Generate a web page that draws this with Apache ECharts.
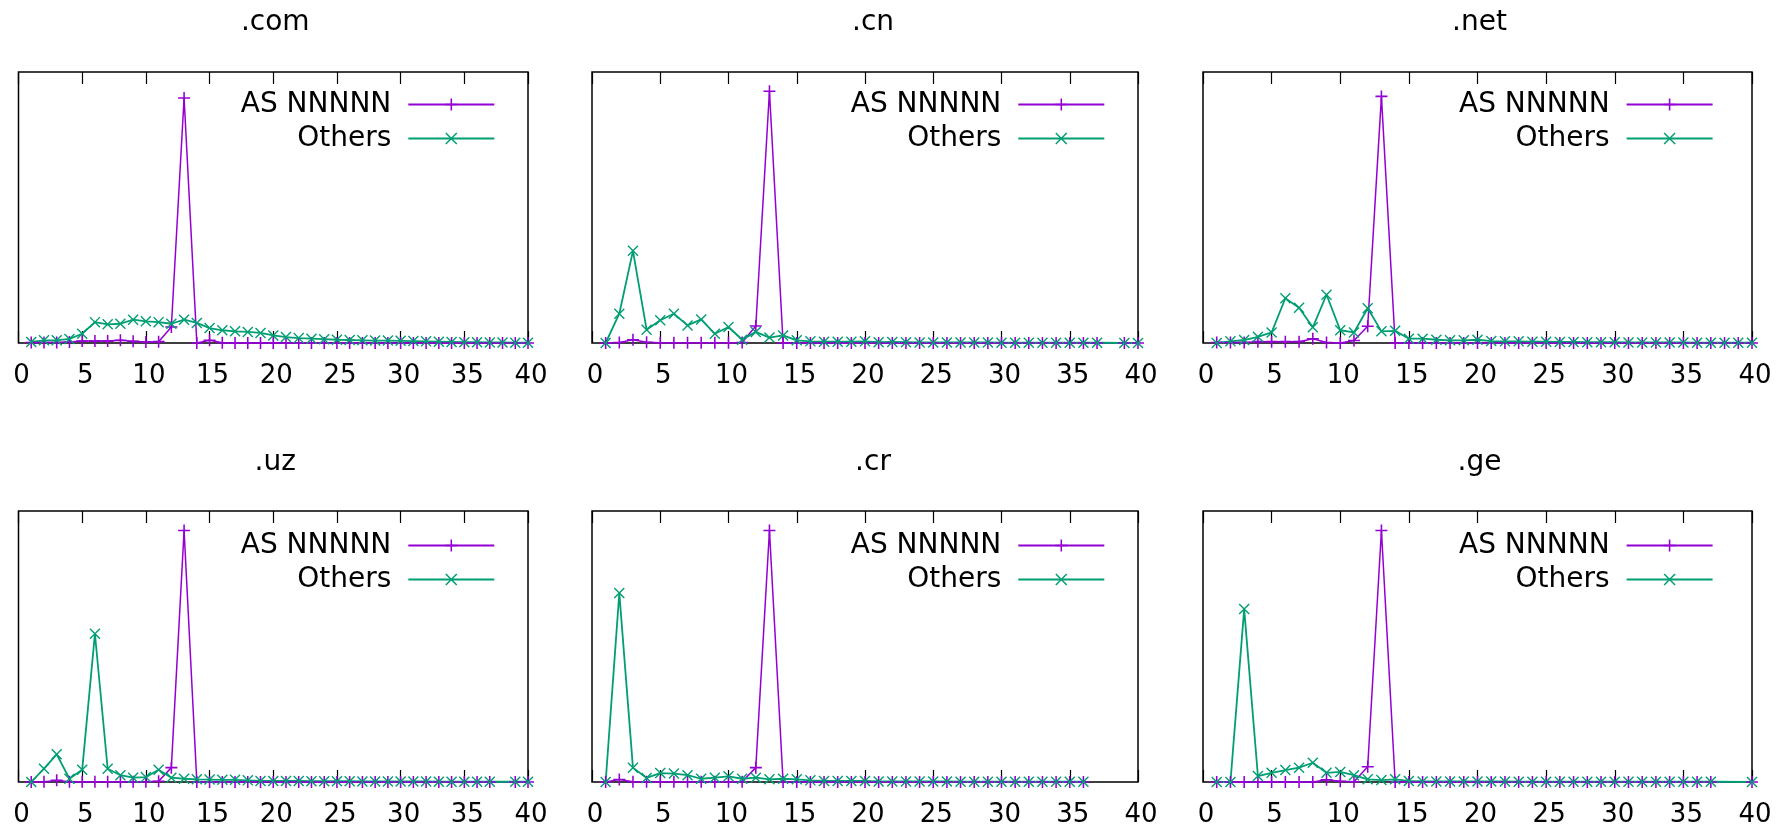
<!DOCTYPE html>
<html>
<head>
<meta charset="utf-8">
<script src="https://cdn.jsdelivr.net/npm/echarts@6/dist/echarts.min.js"></script>
<style>
html,body{margin:0;padding:0;background:#fff;}
#chart{width:1778px;height:833px;}
</style>
</head>
<body>
<div id="chart"></div>
<script>
// ---- data ----
const xValues = [1,2,3,4,5,6,7,8,9,10,11,12,13,14,15,16,17,18,19,20,21,22,23,24,25,26,27,28,29,30,31,32,33,34,35,36,37,38,39,40];
const xTicks = [0,5,10,15,20,25,30,35,40];
const panelTitles = ['.com', '.cn', '.net', '.uz', '.cr', '.ge'];
const seriesNames = ['AS NNNNN', 'Others'];

const comAS = [0.002,0.002,0.002,0.004,0.007,0.007,0.007,0.010,0.006,0.004,0.005,0.059,0.904,0,0.010,0.001,0,0,0,0,0,0,0,0,0,0,0,0,0,0,0,0,0,0,0,0,0,0,0,0];
const comOT = [0.004,0.010,0.010,0.015,0.034,0.077,0.069,0.071,0.086,0.080,0.077,0.071,0.086,0.074,0.055,0.047,0.043,0.041,0.037,0.028,0.022,0.018,0.016,0.014,0.012,0.011,0.010,0.009,0.009,0.008,0.007,0.006,0.005,0.004,0.003,0.003,0.002,0.002,0.001,0.001];

const cnAS = [0,0.002,0.012,0.003,0.001,0.001,0.001,0.001,0.001,0.001,0.002,0.063,0.929,0,0,0,0,0,0,0,0,0,0,0,0,0,0,0,0,0,0,0,0,0,0,0,0,null,0,0];
const cnOT = [0,0.108,0.340,0.049,0.084,0.108,0.065,0.087,0.034,0.059,0.012,0.041,0.020,0.028,0.010,0.006,0.005,0.005,0.005,0.006,0.003,0.004,0.003,0.002,0.002,0.002,0.002,0.002,0.002,0.001,0.001,0.001,0.001,0.001,0.001,0.001,0.001,null,0,0];

const netAS = [0.002,0.002,0.002,0.005,0.005,0.005,0.005,0.016,0.002,0,0.009,0.062,0.910,0,0,0,0,0,0,0,0,0,0,0,0,0,0,0,0,0,0,0,0,0,0,0,0,0,0,0];
const netOT = [0,0.006,0.011,0.023,0.039,0.165,0.130,0.058,0.178,0.047,0.039,0.128,0.043,0.045,0.016,0.016,0.012,0.010,0.010,0.012,0.007,0.006,0.006,0.005,0.005,0.004,0.004,0.003,0.003,0.003,0.002,0.002,0.002,0.002,0.002,0.001,0.001,0.001,0.001,0.001];

const uzAS = [0,0.001,0.006,0.001,0.001,0.001,0.001,0.001,0.001,0.001,0.003,0.053,0.928,0,0,0,0,0,0,0,0,0,0,0,0,0,0,0,0,0,0,0,0,0,0,0,0,null,0,0];
const uzOT = [0,0.049,0.102,0.012,0.045,0.547,0.049,0.025,0.016,0.018,0.045,0.016,0.012,0.010,0.009,0.008,0.008,0.006,0.004,0.004,0.004,0.004,0.003,0.003,0.003,0.003,0.002,0.002,0.002,0.002,0.002,0.002,0.001,0.001,0.001,0.001,0.001,null,0.001,0.001];

const crAS = [0,0.009,0.001,0.001,0.001,0.001,0.001,0.001,0.001,0.001,0.001,0.053,0.928,0,0,0,0,0,0,0,0,0,0,0,0,0,0,0,0,0,0,0,0,0,0,0,null,null,null,null];
const crOT = [0,0.697,0.053,0.015,0.033,0.031,0.025,0.012,0.016,0.021,0.012,0.016,0.010,0.012,0.010,0.006,0.004,0.004,0.004,0.004,0.002,0.002,0.002,0.002,0.002,0.002,0.001,0.001,0.001,0.001,0.001,0.001,0.001,0.001,0.001,0.001,null,null,null,null];

const geAS = [0,0,0,0,0,0,0,0,0.008,0.003,0.001,0.056,0.928,0,0,0,0,0,0,0,0,0,0,0,0,0,0,0,0,0,0,0,0,0,0,0,0,null,null,0];
const geOT = [0,0,0.638,0.022,0.034,0.044,0.053,0.071,0.034,0.037,0.025,0.010,0.007,0.010,0.004,0.002,0.002,0.002,0.002,0.002,0.002,0.002,0.001,0.001,0.001,0.001,0.001,0.001,0.001,0.001,0.001,0.001,0.001,0.001,0.001,0.001,0.001,null,null,0];

const panelData = [[comAS, comOT],[cnAS, cnOT],[netAS, netOT],[uzAS, uzOT],[crAS, crOT],[geAS, geOT]];

// ---- layout / style ----
const W = 1778;
const FONT = 'DejaVu Sans';
const FS_TICK = 26;
const FS_TEXT = 28;
const colors = ['#9400d3', '#009e73'];
const plusPath = 'path://M8.7,0H11.3V8.7H20V11.3H11.3V20H8.7V11.3H0V8.7H8.7Z';
const crossPath = 'path://M0,1.8L1.8,0L20,18.2L18.2,20Z M18.2,0L20,1.8L1.8,20L0,18.2Z';
const symbols = [plusPath, crossPath];
const symSizes = [12, 11];
const lineWidths = [1.5, 1.8];

const cols = [
  {left: 18.5, width: 509.5, legInset: 32.7, titleShift: 2},
  {left: 592, width: 546, legInset: 32.7, titleShift: 8},
  {left: 1203, width: 549, legInset: 38.4, titleShift: 2}
];
const rows = [{top: 72, height: 271, titleTop: 8.5, legTop: 90.5}, {top: 511, height: 271, titleTop: 449, legTop: 531.5}];

const grid = [], xAxis = [], yAxis = [], series = [], title = [], legend = [];

panelTitles.forEach((t, p) => {
  const c = cols[p % 3], r = rows[Math.floor(p / 3)];
  grid.push({left: c.left, top: r.top, width: c.width, height: r.height,
    show: true, borderColor: '#000', borderWidth: 1.5, backgroundColor: 'transparent', containLabel: false});
  const axisCommon = {
    type: 'value', gridIndex: p, min: xTicks[0], max: xTicks[xTicks.length - 1], interval: xTicks[1] - xTicks[0],
    splitLine: {show: false},
    axisLine: {show: false},
    axisTick: {show: true, inside: true, length: 12, lineStyle: {color: '#000', width: 1.2}}
  };
  xAxis.push(Object.assign({}, axisCommon, {position: 'bottom',
    axisLabel: {show: true, color: '#000', fontFamily: FONT, fontSize: FS_TICK, margin: 20, padding: [0, 0, 0, 6]}}));
  xAxis.push(Object.assign({}, axisCommon, {position: 'top', axisLabel: {show: false}}));
  yAxis.push({type: 'value', gridIndex: p, min: 0, max: 1, show: false});
  title.push({text: t, left: c.left + c.width / 2 + c.titleShift, top: r.titleTop, textAlign: 'center', padding: 0,
    textStyle: {fontFamily: FONT, fontSize: FS_TEXT, fontWeight: 'normal', color: '#000', lineHeight: 28}});
  legend.push({
    orient: 'vertical', align: 'right', right: W - (c.left + c.width - c.legInset), top: r.legTop,
    padding: 0, itemGap: 6, itemWidth: 86, itemHeight: 15,
    data: seriesNames,
    selectedMode: false,
    textStyle: {fontFamily: FONT, fontSize: FS_TEXT, color: '#000', lineHeight: 28, padding: [0, 12, 0, 0]}
  });
  seriesNames.forEach((name, s) => {
    const vals = panelData[p][s];
    series.push({
      name: name, type: 'line', xAxisIndex: p * 2, yAxisIndex: p,
      data: xValues.map((x, i) => [x, vals[i]]),
      symbol: symbols[s], symbolSize: symSizes[s], showSymbol: true, showAllSymbol: true,
      connectNulls: true, clip: false, animation: false,
      itemStyle: {color: colors[s]},
      lineStyle: {color: colors[s], width: lineWidths[s]},
      emphasis: {disabled: true}
    });
  });
});

const chart = echarts.init(document.getElementById('chart'), null, {renderer: 'canvas'});
chart.setOption({backgroundColor: '#fff', animation: false, title, legend, grid, xAxis, yAxis, series});
</script>
</body>
</html>
